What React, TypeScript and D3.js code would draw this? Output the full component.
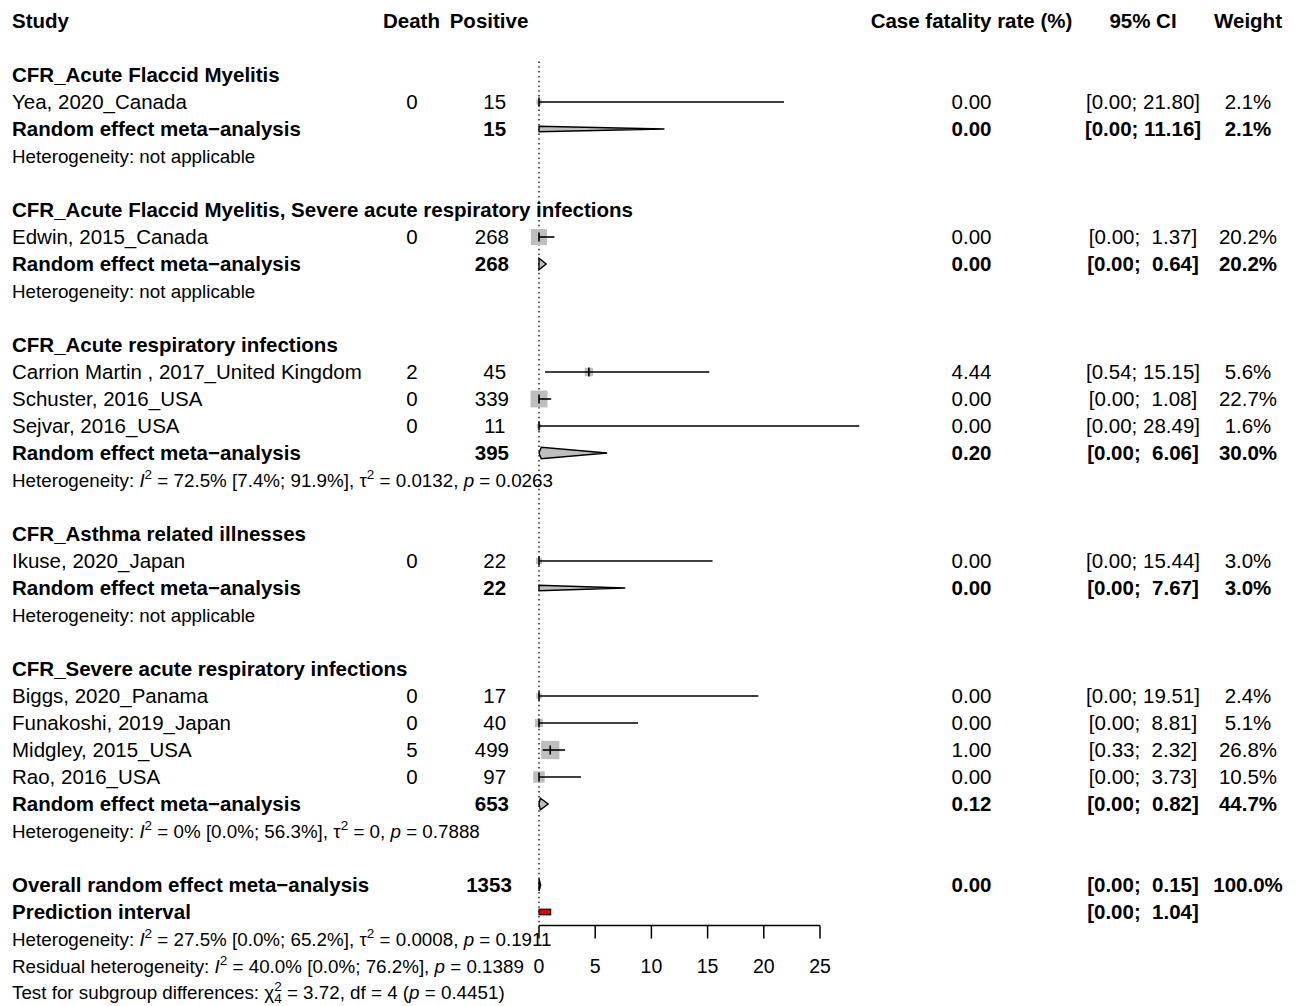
import React from 'react';
import * as d3 from 'd3';

// ---------- data ----------
const headerLabels = ["Study", "Death", "Positive", "Case fatality rate (%)", "95% CI", "Weight"];

const groupNames = [
  "CFR_Acute Flaccid Myelitis",
  "CFR_Acute Flaccid Myelitis, Severe acute respiratory infections",
  "CFR_Acute respiratory infections",
  "CFR_Asthma related illnesses",
  "CFR_Severe acute respiratory infections",
];

const studyLabels = [
  "Yea, 2020_Canada",
  "Edwin, 2015_Canada",
  "Carrion Martin , 2017_United Kingdom",
  "Schuster, 2016_USA",
  "Sejvar, 2016_USA",
  "Ikuse, 2020_Japan",
  "Biggs, 2020_Panama",
  "Funakoshi, 2019_Japan",
  "Midgley, 2015_USA",
  "Rao, 2016_USA",
];
const studyGroup = [0, 1, 2, 2, 2, 3, 4, 4, 4, 4];
const studyDeaths = [0, 0, 2, 0, 0, 0, 0, 0, 5, 0];
const studyPositive = [15, 268, 45, 339, 11, 22, 17, 40, 499, 97];
const studyCFR = [0, 0, 4.44, 0, 0, 0, 0, 0, 1.0, 0];
const studyLower = [0, 0, 0.54, 0, 0, 0, 0, 0, 0.33, 0];
const studyUpper = [21.8, 1.37, 15.15, 1.08, 28.49, 15.44, 19.51, 8.81, 2.32, 3.73];
const studyWeight = [2.1, 20.2, 5.6, 22.7, 1.6, 3.0, 2.4, 5.1, 26.8, 10.5];

const groupPositive = [15, 268, 395, 22, 653];
const groupCFR = [0, 0, 0.2, 0, 0.12];
const groupLower = [0, 0, 0, 0, 0];
const groupUpper = [11.16, 0.64, 6.06, 7.67, 0.82];
const groupWeight = [2.1, 20.2, 30.0, 3.0, 44.7];
// heterogeneity per group: [I2, I2 CI, tau2, p] or null
const groupHet: (string[] | null)[] = [
  null,
  null,
  ["72.5%", "[7.4%; 91.9%]", "0.0132", "0.0263"],
  null,
  ["0%", "[0.0%; 56.3%]", "0", "0.7888"],
];

const overallLabel = "Overall random effect meta\u2212analysis";
const summaryLabel = "Random effect meta\u2212analysis";
const overallPositive = 1353;
const overallCFR = 0.0;
const overallLower = 0.0;
const overallUpper = 0.15;
const overallWeight = 100.0;
const predictionLower = 0.0;
const predictionUpper = 1.04;
const overallHet = ["27.5%", "[0.0%; 65.2%]", "0.0008", "0.1911"];
const residualHet = ["40.0%", "[0.0%; 76.2%]", "0.1389"];
const subgroupTest = ["3.72", "4", "0.4451"];

const axisTicks = [0, 5, 10, 15, 20, 25];

// ---------- style ----------
const W = 1298;
const H = 1006;
const FONT = "'Liberation Sans', Arial, Helvetica, sans-serif";
const FS = 20.5;
const FS_HET = 18.8;
const GREY = "#bebebe";
const thinDiamondGroups = new Set([0, 3]);

const x = d3.scaleLinear().domain([0, 25]).range([539, 820]);
const y = d3.scaleLinear().domain([0, 36]).range([21, 993]);

const colX = { study: 12, death: 412, pos: 489, cfr: 971.5, ci: 1143, w: 1248 };

const pad = (s: string, n: number) => (s.length >= n ? s : " ".repeat(n - s.length) + s);
const fmtCI = (lo: number, hi: number) => `[${lo.toFixed(2)}; ${pad(hi.toFixed(2), 5)}]`;
const fmtW = (w: number) => `${w.toFixed(1)}%`;
const fmtPos = (n: number) => pad(String(n), 4);

type Part = [string, string];

function T({ x: tx, y: ty, anchor = "start", bold = false, size = FS, children }: any) {
  return (
    <text
      x={tx}
      y={ty + size * 0.36}
      textAnchor={anchor}
      fontWeight={bold ? "bold" : "normal"}
      fontSize={size}
      fontFamily={FONT}
      fill="#000"
      xmlSpace="preserve"
      style={{ whiteSpace: "pre" }}
    >
      {children}
    </text>
  );
}

function Rich({ x: tx, y: ty, parts }: { x: number; y: number; parts: Part[] }) {
  const size = FS_HET;
  const small = size * 0.72;
  let offset = 0;
  const nodes: any[] = [];
  parts.forEach(([txt, kind], i) => {
    if (kind === "subback") {
      // subscript stacked under previous superscript
      const t2 = size * 0.2;
      const d2 = t2 - offset;
      offset = t2;
      nodes.push(
        <tspan key={i} dy={d2} dx={-small * 0.556} fontSize={small}>
          {txt}
        </tspan>
      );
      return;
    }
    let target = 0;
    const props: any = {};
    if (kind === "sup") target = -size * 0.42;
    else if (kind === "sub") target = size * 0.2;
    const dy = target - offset;
    offset = target;
    if (kind === "sup" || kind === "sub") props.fontSize = small;
    if (kind === "i") props.fontStyle = "italic";
    nodes.push(
      <tspan key={i} dy={dy} {...props}>
        {txt}
      </tspan>
    );
  });
  return (
    <text
      x={tx}
      y={ty + size * 0.36}
      fontSize={size}
      fontFamily={FONT}
      fill="#000"
      xmlSpace="preserve"
      style={{ whiteSpace: "pre" }}
    >
      {nodes}
    </text>
  );
}

const hetParts = (h: string[] | null, prefix = "Heterogeneity: "): Part[] => {
  if (!h) return [["Heterogeneity: not applicable", "n"]];
  return [
    [prefix, "n"],
    ["I", "i"],
    ["2", "sup"],
    [` = ${h[0]} ${h[1]}, `, "n"],
    ["\u03c4", "n"],
    ["2", "sup"],
    [` = ${h[2]}, `, "n"],
    ["p", "i"],
    [` = ${h[3]}`, "n"],
  ];
};

function Diamond({ lo, est, hi, row, half = 5.5 }: any) {
  const cy = y(row);
  const pts = [
    [x(lo), cy],
    [x(est), cy - half],
    [x(hi), cy],
    [x(est), cy + half],
  ];
  return (
    <polygon
      points={pts.map((p) => p.join(",")).join(" ")}
      fill={GREY}
      stroke="#000"
      strokeWidth={1.4}
      strokeLinejoin="miter"
    />
  );
}

export default function App() {
  const els: any[] = [];
  let row = 2;

  // headers
  els.push(<T key="h0" x={colX.study} y={y(0)} bold>{headerLabels[0]}</T>);
  els.push(<T key="h1" x={colX.death - 0.5} y={y(0)} bold anchor="middle">{headerLabels[1]}</T>);
  els.push(<T key="h2" x={colX.pos} y={y(0)} bold anchor="middle">{headerLabels[2]}</T>);
  els.push(<T key="h3" x={colX.cfr} y={y(0)} bold anchor="middle">{headerLabels[3]}</T>);
  els.push(<T key="h4" x={colX.ci} y={y(0)} bold anchor="middle">{headerLabels[4]}</T>);
  els.push(<T key="h5" x={colX.w} y={y(0)} bold anchor="middle">{headerLabels[5]}</T>);

  const marks: any[] = [];

  groupNames.forEach((gname, g) => {
    els.push(<T key={`g${g}`} x={colX.study} y={y(row)} bold>{gname}</T>);
    row++;
    studyLabels.forEach((lab, i) => {
      if (studyGroup[i] !== g) return;
      const ry = y(row);
      els.push(<T key={`s${i}a`} x={colX.study} y={ry}>{lab}</T>);
      els.push(<T key={`s${i}b`} x={colX.death} y={ry} anchor="middle">{String(studyDeaths[i])}</T>);
      els.push(<T key={`s${i}c`} x={colX.pos} y={ry} anchor="middle">{fmtPos(studyPositive[i])}</T>);
      els.push(<T key={`s${i}d`} x={colX.cfr} y={ry} anchor="middle">{studyCFR[i].toFixed(2)}</T>);
      els.push(<T key={`s${i}e`} x={colX.ci} y={ry} anchor="middle">{fmtCI(studyLower[i], studyUpper[i])}</T>);
      els.push(<T key={`s${i}f`} x={colX.w} y={ry} anchor="middle">{fmtW(studyWeight[i])}</T>);
      const side = 3.55 * Math.sqrt(studyWeight[i]);
      const cx = x(studyCFR[i]);
      marks.push(
        <g key={`m${i}`}>
          <rect x={cx - side / 2} y={ry - side / 2} width={side} height={side} fill={GREY} />
          <line x1={x(studyLower[i])} x2={x(studyUpper[i])} y1={ry} y2={ry} stroke="#000" strokeWidth={1.6} />
          <line x1={cx} x2={cx} y1={ry - 4.5} y2={ry + 4.5} stroke="#000" strokeWidth={1.6} />
        </g>
      );
      row++;
    });
    const sy = y(row);
    els.push(<T key={`r${g}a`} x={colX.study} y={sy} bold>{summaryLabel}</T>);
    els.push(<T key={`r${g}c`} x={colX.pos} y={sy} bold anchor="middle">{fmtPos(groupPositive[g])}</T>);
    els.push(<T key={`r${g}d`} x={colX.cfr} y={sy} bold anchor="middle">{groupCFR[g].toFixed(2)}</T>);
    els.push(<T key={`r${g}e`} x={colX.ci} y={sy} bold anchor="middle">{fmtCI(groupLower[g], groupUpper[g])}</T>);
    els.push(<T key={`r${g}f`} x={colX.w} y={sy} bold anchor="middle">{fmtW(groupWeight[g])}</T>);
    marks.push(
      <Diamond key={`d${g}`} lo={groupLower[g]} est={groupCFR[g]} hi={groupUpper[g]} row={row}
        half={thinDiamondGroups.has(g) ? 2.8 : 5.8} />
    );
    row++;
    els.push(<Rich key={`het${g}`} x={colX.study} y={y(row)} parts={hetParts(groupHet[g])} />);
    row += 2;
  });

  // overall
  const oy = y(row);
  els.push(<T key="oa" x={colX.study} y={oy} bold>{overallLabel}</T>);
  els.push(<T key="oc" x={colX.pos} y={oy} bold anchor="middle">{fmtPos(overallPositive)}</T>);
  els.push(<T key="od" x={colX.cfr} y={oy} bold anchor="middle">{overallCFR.toFixed(2)}</T>);
  els.push(<T key="oe" x={colX.ci} y={oy} bold anchor="middle">{fmtCI(overallLower, overallUpper)}</T>);
  els.push(<T key="of" x={colX.w} y={oy} bold anchor="middle">{fmtW(overallWeight)}</T>);
  marks.push(<Diamond key="dov" lo={overallLower} est={overallCFR} hi={overallUpper} row={row} half={6} />);
  row++;
  const py = y(row);
  els.push(<T key="pa" x={colX.study} y={py} bold>Prediction interval</T>);
  els.push(<T key="pe" x={colX.ci} y={py} bold anchor="middle">{fmtCI(predictionLower, predictionUpper)}</T>);
  marks.push(
    <rect key="pi" x={x(predictionLower)} y={py - 2.8} width={x(predictionUpper) - x(predictionLower)} height={5.6}
      fill="#e00000" stroke="#000" strokeWidth={1.1} />
  );
  const predRow = row;
  row++;
  els.push(<Rich key="hov" x={colX.study} y={y(row)} parts={hetParts(overallHet)} />);
  row++;
  els.push(
    <Rich key="hres" x={colX.study} y={y(row)} parts={[
      ["Residual heterogeneity: ", "n"], ["I", "i"], ["2", "sup"],
      [` = ${residualHet[0]} ${residualHet[1]}, `, "n"], ["p", "i"], [` = ${residualHet[2]}`, "n"],
    ]} />
  );
  const tickLabelRow = row;
  row++;
  els.push(
    <Rich key="hsub" x={colX.study} y={y(row) - 1} parts={[
      ["Test for subgroup differences: ", "n"], ["\u03c7", "n"], ["2", "sup"], [subgroupTest[1], "subback"],
      [` = ${subgroupTest[0]}, df = ${subgroupTest[1]} (`, "n"], ["p", "i"], [` = ${subgroupTest[2]})`, "n"],
    ]} />
  );

  const axisY = (y(predRow) + y(predRow + 1)) / 2;
  const refTop = (y(1) + y(2)) / 2;

  return (
    <svg width={W} height={H} viewBox={`0 0 ${W} ${H}`}
      style={{ position: "absolute", left: 0, top: 0, background: "#fff", display: "block" }}>
      <rect x={0} y={0} width={W} height={H} fill="#fff" />
      <line x1={x(0)} x2={x(0)} y1={refTop} y2={axisY} stroke="#222" strokeWidth={1.5} strokeDasharray="1.5 3.3" />
      {marks}
      {/* axis */}
      <line x1={x(axisTicks[0])} x2={x(axisTicks[axisTicks.length - 1])} y1={axisY} y2={axisY} stroke="#000" strokeWidth={1.5} />
      {axisTicks.map((t) => (
        <g key={`t${t}`}>
          <line x1={x(t)} x2={x(t)} y1={axisY} y2={axisY + 13} stroke="#000" strokeWidth={1.5} />
          <T x={x(t)} y={y(tickLabelRow)} anchor="middle" size={19.5}>{String(t)}</T>
        </g>
      ))}
      {els}
    </svg>
  );
}
